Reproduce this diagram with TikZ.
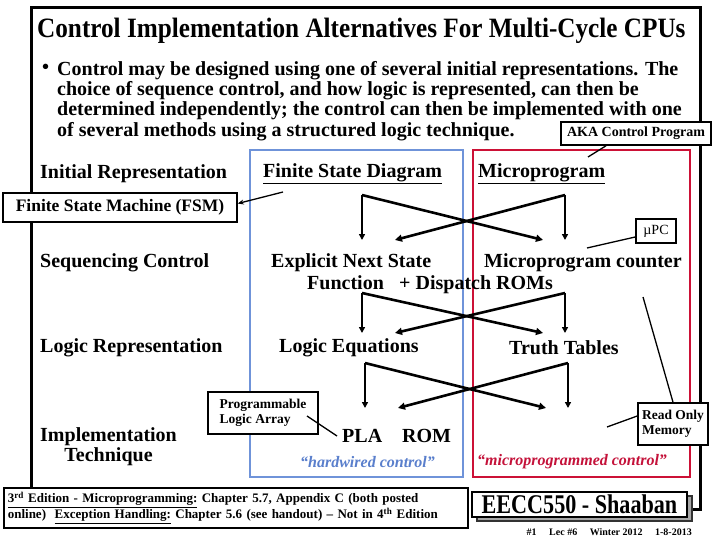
\documentclass[tikz,border=0pt]{standalone}
\usepackage{graphicx}
\usepackage{fontspec}
\setmainfont{Liberation Serif}
\usetikzlibrary{arrows.meta,positioning,shadows,backgrounds}

\definecolor{fsdblue}{HTML}{6F93D9}
\definecolor{mpred}{HTML}{CC1136}
\definecolor{hwblue}{HTML}{5A7FCC}
\definecolor{mptext}{HTML}{C4123A}

\newcommand{\squeeze}[2]{\scalebox{#1}[1]{#2}}

\begin{document}
\begin{tikzpicture}[x=1pt, y=-1pt,
    every node/.style={inner sep=0pt, font=\bfseries},
    hdr/.style={anchor=west, yshift=-2pt, font=\fontsize{20}{20.3}\selectfont\bfseries},
    tag/.style={draw, line width=1.6pt, fill=white, inner sep=3pt, align=left},
    note/.style={tag, font=\fontsize{13.5}{15.5}\selectfont\bfseries},
    slogan/.style={anchor=west, font=\fontsize{16}{18}\selectfont\bfseries\itshape},
    frame/.style={line width=3pt, line join=miter},
    colbox/.style={line width=2.6pt},
    flow/.style={line width=2.6pt, -{Triangle[length=7pt, width=7pt]}},
    drop/.style={line width=1.8pt, -{Triangle[length=6pt, width=6pt]}},
    callout/.style={line width=1.3pt},
  ]
  \useasboundingbox (0,0) rectangle (720,540);

  % ---- title and bullet ----
  \node[anchor=west] (title) at (37,31)
    {\squeeze{0.9}{\fontsize{28}{30}\selectfont Control Implementation Alternatives For Multi-Cycle CPUs}};
  \node[hdr] (dot) at (42,67) {\textbullet};
  \node[hdr, anchor=north west, align=left] (intro) at (57,59)
    {Control may be designed using one of several initial representations. The\\
     choice of sequence control, and how logic is represented, can then be\\
     determined independently; the control can then be implemented with one\\
     of several methods using a structured logic technique.};
  \node[tag, font=\fontsize{14}{15}\selectfont\bfseries, align=center,
        minimum width=150pt, minimum height=23pt] (aka) at (636,133.5)
    {AKA Control Program};

  % ---- row 1: initial representation ----
  \node[hdr] (initRep) at (40,172) {Initial Representation};
  \node[hdr] (fsdHead) at (263,172) {\underline{Finite State Diagram}};
  \node[hdr] (mpHead) at (478,172) {\underline{Microprogram}};
  \node[tag, font=\fontsize{17.5}{19}\selectfont\bfseries, align=center,
        minimum width=234pt, minimum height=29pt] (fsm) at (120,207.5)
    {Finite State Machine (FSM)};

  % ---- row 2: sequencing control ----
  \node[hdr] (seqCtl) at (40,261) {Sequencing Control};
  \node[hdr] (nextState) at (271,261) {Explicit Next State};
  \node[hdr, anchor=base west] (function) at (307,287) {Function};
  \node[hdr, anchor=base west] (dispatch) at (399,287) {+ Dispatch ROMs};
  \node[hdr] (upcount) at (484,261) {Microprogram counter};
  \node[tag, font=\fontsize{14}{15}\selectfont, align=center,
        minimum width=40pt, minimum height=24pt] (upc) at (656,231) {µPC};

  % ---- row 3: logic representation ----
  \node[hdr] (logicRep) at (40,346) {Logic Representation};
  \node[hdr] (logicEq) at (279,346) {Logic Equations};
  \node[hdr] (truth) at (509,346) {Truth Tables};

  % ---- row 4: implementation technique ----
  \node[hdr, align=center] (implTech) at (40,445) {Implementation\\Technique};
  \node[note, minimum width=110pt, minimum height=42pt] (plabox) at (263,413)
    {Programmable\\Logic Array};
  \node[hdr] (pla) at (342,434) {PLA};
  \node[hdr] (rom) at (402,434) {ROM};
  \node[note, minimum width=70pt, minimum height=42pt] (rombox) at (673,424)
    {Read Only\\Memory};
  \node[slogan, text=hwblue] (hardwired) at (300,462) {“hardwired control”};
  \node[slogan, text=mptext] (microprog) at (477,462) {“microprogrammed control”};

  % ---- footer ----
  \node[tag, font=\fontsize{13}{16.5}\selectfont\bfseries, anchor=north west,
        inner sep=4pt, text width=456pt, minimum height=40pt] (refs) at (3,487)
    {\underline{3\textsuperscript{rd} Edition - Microprogramming:} Chapter 5.7, Appendix C (both posted\\
     online)\ \ \underline{Exception Handling:} Chapter 5.6 (see handout) -- Not in 4\textsuperscript{th} Edition};
  \node[draw, line width=1.6pt, fill=white, minimum width=215pt, minimum height=25pt,
        drop shadow={shadow xshift=5pt, shadow yshift=-4pt, fill=gray!70,
                     draw=black!80, opacity=1}] (shaaban) at (579.5,504.5)
    {\squeeze{0.82}{\fontsize{27}{29}\selectfont EECC550 - Shaaban}};
  \node[anchor=east, font=\fontsize{10}{11}\selectfont\bfseries] (lecno) at (692,532)
    {\#1\quad\ Lec \#6\quad\ Winter 2012\quad\ 1-8-2013};

  % ---- crossing arrows between the rows ----
  \foreach \k/\ya/\yb/\dx in {1/195/240/0, 2/293/333/0, 3/363/408/3} {
    \coordinate (fsd\k) at (362+\dx,\ya);
    \coordinate (mp\k) at (565+\dx,\ya);
    \coordinate (fsdTip\k) at (362+\dx,\yb);
    \coordinate (mpTip\k) at (565+\dx,\yb);
    \coordinate (fsdCross\k) at (543+\dx,\yb);
    \coordinate (mpCross\k) at (395+\dx,\yb);
    \draw[drop] (fsd\k) -- (fsdTip\k);
    \draw[drop] (mp\k) -- (mpTip\k);
    \draw[flow] (fsd\k) -- (fsdCross\k);
    \draw[flow] (mp\k) -- (mpCross\k);
  }

  % ---- callout lines ----
  \coordinate (akaTip) at (588,157);
  \draw[callout] ([xshift=-30pt]aka.south) -- (akaTip);
  \coordinate (fsmTail) at (283,192);
  \draw[callout, -{Stealth[length=6pt, width=5pt]}] (fsmTail) -- ([yshift=4pt]fsm.east);
  \coordinate (upcTip) at (587,248);
  \draw[callout] ([yshift=-6pt]upc.west) -- (upcTip);
  \coordinate (plaIn) at (307,416);
  \draw[callout] (plaIn) -- ([xshift=-5pt]pla.west);
  \coordinate (romTip) at (607,427);
  \draw[callout] ([yshift=8pt]rombox.west) -- (romTip);
  \coordinate (romTop) at (643,297);
  \draw[callout] (rombox.north) -- (romTop);

  % ---- frame and column boxes ----
  \begin{scope}[on background layer]
    \coordinate (frameTL) at (31,8);
    \coordinate (frameTR) at (700,8);
    \draw[colbox, fsdblue] (250,150) rectangle (463,477);
    \draw[colbox, mpred] (473,150) rectangle (690,477);
    \draw[frame] (refs.north -| frameTL) -- (frameTL) -- (frameTR)
      |- ([yshift=-5pt]shaaban.east);
  \end{scope}
\end{tikzpicture}
\end{document}
